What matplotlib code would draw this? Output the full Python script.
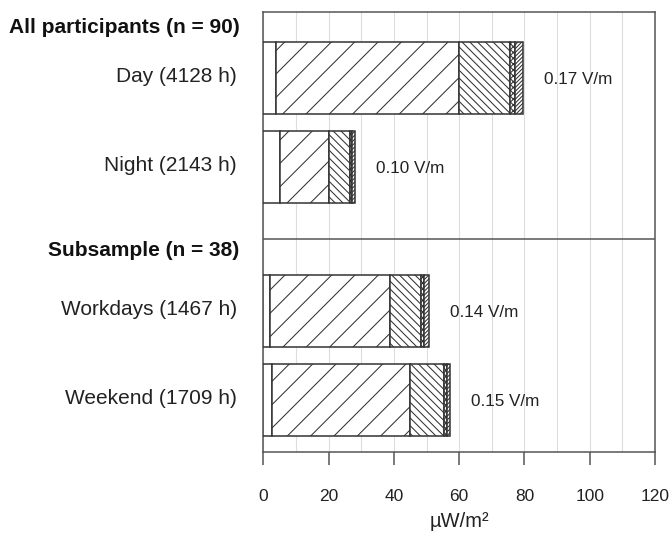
import matplotlib
matplotlib.use("Agg")
import matplotlib.pyplot as plt
import numpy as np

DPI = 70
K = 100.0 / DPI  # convert sizes tuned for 100 dpi to points at this dpi

plt.rcParams['font.family'] = ['Liberation Sans', 'DejaVu Sans']
plt.rcParams['hatch.linewidth'] = 0.75 * K
plt.rcParams['hatch.color'] = '#333333'

# ---- data ----
groups = ["All participants (n = 90)", "Subsample (n = 38)"]
categories = ["Day (4128 h)", "Night (2143 h)", "Workdays (1467 h)", "Weekend (1709 h)"]
# segment widths (µW/m²): blank, '/', '\\', cross, dense '/'
seg_blank = [4.0, 5.0, 2.1, 2.6]
seg_a = [56.0, 15.0, 36.8, 42.2]
seg_b = [15.5, 6.5, 9.4, 10.6]
seg_c = [1.5, 0.8, 0.8, 0.8]
seg_d = [2.7, 0.9, 1.7, 1.1]
field_labels = ["0.17 V/m", "0.10 V/m", "0.14 V/m", "0.15 V/m"]
xticks = [0, 20, 40, 60, 80, 100, 120]
xlabel = "µW/m²"

# ---- layout ----
y_cat = [1.0, 2.0, 3.618, 4.618]
y_grp = [0.438, 2.933]
y_sep = 2.812
bar_h = 0.81

fig = plt.figure(figsize=(670 / DPI, 534 / DPI), dpi=DPI)
ax = fig.add_axes([0.393, 0.1541, 0.5846, 0.824])

segments = [seg_blank, seg_a, seg_b, seg_c, seg_d]
hatches = [None, '/', '\\\\\\', 'xxxx', '//////']
edge = '#333333'
left = np.zeros(len(categories))
for seg, h in zip(segments, hatches):
    ax.barh(y_cat, seg, left=left, height=bar_h, color='white',
            edgecolor=edge, linewidth=1.1 * K, hatch=h, zorder=3)
    left += np.array(seg)

totals = left
for y, t, lab in zip(y_cat, totals, field_labels):
    ax.annotate(lab, xy=(t, y), xytext=(15 * K, -1 * K), textcoords='offset points',
                ha='left', va='center', fontsize=12.3 * K, color='#222222', zorder=4)

for y, lab in zip(y_cat, categories):
    ax.annotate(lab, xy=(0, y), xycoords=('axes fraction', 'data'),
                xytext=(-19 * K, 1 * K), textcoords='offset points',
                ha='right', va='center', fontsize=15 * K, color='#222222')
for y, lab in zip(y_grp, groups):
    ax.annotate(lab, xy=(0, y), xycoords=('axes fraction', 'data'),
                xytext=(-17 * K, 0), textcoords='offset points',
                ha='right', va='center', fontsize=15 * K, fontweight='bold', color='#111111')

ax.axhline(y_sep, color='#555555', linewidth=1.1 * K, zorder=2)

ax.set_xlim(0, 120)
ax.set_ylim(5.199, 0.255)
ax.set_xticks(xticks)
ax.set_xticklabels([str(v) for v in xticks], fontsize=12.5 * K, color='#222222')
ax.set_xticks(np.arange(0, 121, 10), minor=True)
ax.set_yticks([])
ax.tick_params(axis='x', which='major', direction='out', length=9.5 * K, width=1.1 * K,
               color='#555555', pad=17 * K)
ax.tick_params(axis='x', which='minor', length=0)
ax.grid(axis='x', which='both', color='#dddddd', linewidth=0.8 * K, zorder=0)
ax.set_axisbelow(True)
for s in ax.spines.values():
    s.set_color('#555555')
    s.set_linewidth(1.1 * K)

ax.set_xlabel(xlabel, fontsize=14.5 * K, color='#222222', labelpad=6 * K)

fig.savefig("out.png", dpi=DPI)
